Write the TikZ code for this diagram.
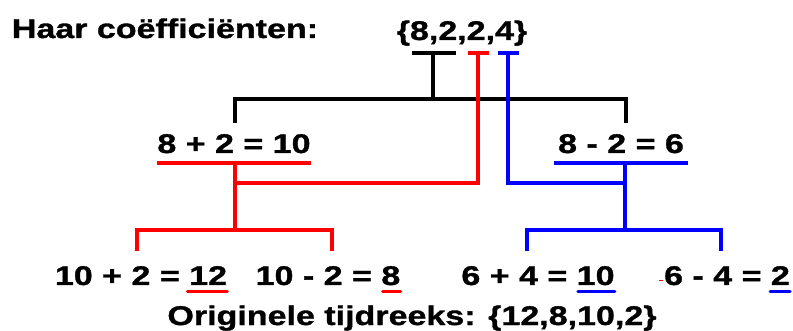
\documentclass[tikz,border=0pt]{standalone}
\usepackage{fontspec}
\newfontfamily\haarfont[FakeStretch=1.26, FakeBold=1.2]{Liberation Sans}
\definecolor{HaarRed}{RGB}{255,0,0}
\definecolor{HaarBlue}{RGB}{0,0,255}
\begin{document}
\begin{tikzpicture}[x=1pt, y=-1pt,
    lbl/.style={anchor=base, inner sep=0pt, font=\haarfont\bfseries\fontsize{27}{30}\selectfont},
    bar/.style={line width=4pt, line join=miter},
    uline/.style={line width=3pt, line cap=round}]
  \useasboundingbox (0,0) rectangle (793,331);

  \node[lbl] (title) at (165,38) {Haar coëfficiënten:};
  \node[lbl] (coef) at (462,40) {\{8,2,2,4\}};

  \node[lbl] (sumA) at (234,153) {8 + 2 = 10};
  \node[lbl] (sumB) at (621,153) {8 - 2 = 6};

  \node[lbl] (n1) at (141,285) {10 + 2 = 12};
  \node[lbl] (n2) at (328,285) {10 - 2 = 8};
  \node[lbl] (n3) at (538,285) {6 + 4 = 10};
  \node[lbl] (n4) at (727,285) {6 - 4 = 2};

  \node[lbl] (orig) at (412,325) {Originele tijdreeks: \{12,8,10,2\}};

  \coordinate (kB) at (433,53);
  \coordinate (kR) at (478,53);
  \coordinate (kU) at (508,53);
  \coordinate (hub) at (433,99);
  \coordinate (sA) at (235,123);
  \coordinate (sB) at (626,123);
  \coordinate (jR) at (235,183);
  \coordinate (jU) at (625,183);
  \coordinate (tR) at (235,230);
  \coordinate (tU) at (625,230);

  % black: average
  \draw[bar] ([xshift=-21pt]kB) -- ([xshift=23pt]kB);
  \draw[bar] (kB) -- (hub);
  \draw[bar] (sA) |- (hub) -| (sB);

  % red: first detail
  \draw[bar, HaarRed] ([xshift=-10pt]kR) -- ([xshift=11pt]kR);
  \draw[bar, HaarRed] (kR) |- (jR);
  \draw[bar, HaarRed] ([yshift=-10pt]sumA.south west) -- ([yshift=-10pt]sumA.south east);
  \draw[bar, HaarRed] (jR |- sumA.south) ++(0,10) -- (tR);
  \draw[bar, HaarRed] (n1.north) ++(-4,-15) |- (tR) -| ([xshift=4pt, yshift=15pt]n2.north);

  % blue: second detail
  \draw[bar, HaarBlue] ([xshift=-10pt]kU) -- ([xshift=11pt]kU);
  \draw[bar, HaarBlue] (kU) |- (jU);
  \draw[bar, HaarBlue] ([xshift=-4pt, yshift=-10pt]sumB.south west) -- ([xshift=4pt, yshift=-10pt]sumB.south east);
  \draw[bar, HaarBlue] (jU |- sumB.south) ++(0,10) -- (tU);
  \draw[bar, HaarBlue] (n3.north) ++(-11,-15) |- (tU) -| ([xshift=-6pt, yshift=15pt]n4.north);

  % results
  \draw[uline, HaarRed] ([yshift=-6pt]n1.south east) -- ++(-40,0);
  \draw[uline, HaarRed] ([yshift=-6pt]n2.south east) -- ++(-18,0);
  \draw[uline, HaarBlue] ([yshift=-6pt]n3.south east) -- ++(-37,0);
  \draw[uline, HaarBlue] ([yshift=-6pt]n4.south east) -- ++(-20,0);
  \draw[HaarRed, line width=1pt] ([xshift=-5pt, yshift=4pt]n4.base west) -- ++(4,0);
\end{tikzpicture}
\end{document}
